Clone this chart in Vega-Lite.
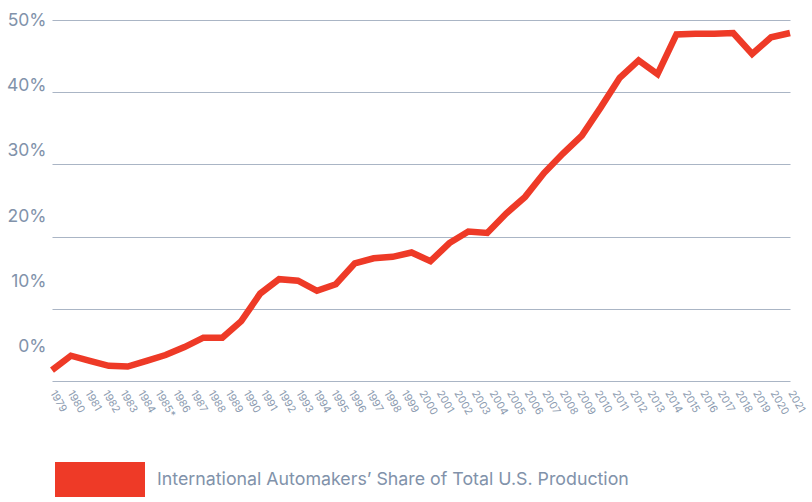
{
  "$schema": "https://vega.github.io/schema/vega-lite/v6.json",
  "width": 738,
  "height": 361,
  "autosize": {"type": "none"},
  "padding": {"left": 52, "top": 20, "right": 22, "bottom": 121},
  "background": "white",
  "config": {"view": {"stroke": null}, "font": "Inter"},
  "layer": [
    {
      "data": {"values": [
        {"year": "1979"}, {"year": "1980"}, {"year": "1981"}, {"year": "1982"}, {"year": "1983"},
        {"year": "1984"}, {"year": "1985*"}, {"year": "1986"}, {"year": "1987"}, {"year": "1988"},
        {"year": "1989"}, {"year": "1990"}, {"year": "1991"}, {"year": "1992"}, {"year": "1993"},
        {"year": "1994"}, {"year": "1995"}, {"year": "1996"}, {"year": "1997"}, {"year": "1998"},
        {"year": "1999"}, {"year": "2000"}, {"year": "2001"}, {"year": "2002"}, {"year": "2003"},
        {"year": "2004"}, {"year": "2005"}, {"year": "2006"}, {"year": "2007"}, {"year": "2008"},
        {"year": "2009"}, {"year": "2010"}, {"year": "2011"}, {"year": "2012"}, {"year": "2013"},
        {"year": "2014"}, {"year": "2015"}, {"year": "2016"}, {"year": "2017"}, {"year": "2018"},
        {"year": "2019"}, {"year": "2020"}, {"year": "2021"}
      ]},
      "mark": {"type": "point", "opacity": 0},
      "encoding": {
        "x": {
          "field": "year", "type": "nominal", "sort": null,
          "scale": {"type": "point", "padding": 0},
          "axis": {"title": null, "orient": "bottom", "labelAngle": 60, "labelAlign": "left", "labelBaseline": "middle",
                   "labelFontSize": 10.5, "labelColor": "#8c9bb0", "ticks": false, "domain": false, "grid": false,
                   "labelPadding": 10, "labelOverlap": false}
        },
        "y": {
          "datum": 0, "type": "quantitative",
          "scale": {"domain": [-5.25, 50], "nice": false, "zero": false},
          "axis": {"title": null, "orient": "left", "values": [0, 10, 20, 30, 40, 50],
                   "labelExpr": "datum.value + '%'", "labelFontSize": 17.5, "labelColor": "#8192aa",
                   "ticks": false, "domain": false, "grid": false, "labelPadding": 6}
        }
      }
    },
    {
      "data": {"values": [
        {"point": 1, "share": 1.5}, {"point": 2, "share": 3.5}, {"point": 3, "share": 2.8}, {"point": 4, "share": 2.1},
        {"point": 5, "share": 2.0}, {"point": 6, "share": 2.8}, {"point": 7, "share": 3.6}, {"point": 8, "share": 4.7},
        {"point": 9, "share": 6.0}, {"point": 10, "share": 6.0}, {"point": 11, "share": 8.3}, {"point": 12, "share": 12.1},
        {"point": 13, "share": 14.1}, {"point": 14, "share": 13.9}, {"point": 15, "share": 12.5}, {"point": 16, "share": 13.4},
        {"point": 17, "share": 16.3}, {"point": 18, "share": 17.0}, {"point": 19, "share": 17.2}, {"point": 20, "share": 17.8},
        {"point": 21, "share": 16.6}, {"point": 22, "share": 19.1}, {"point": 23, "share": 20.7}, {"point": 24, "share": 20.5},
        {"point": 25, "share": 23.2}, {"point": 26, "share": 25.5}, {"point": 27, "share": 28.8}, {"point": 28, "share": 31.5},
        {"point": 29, "share": 34.0}, {"point": 30, "share": 37.9}, {"point": 31, "share": 42.0}, {"point": 32, "share": 44.4},
        {"point": 33, "share": 42.5}, {"point": 34, "share": 48.0}, {"point": 35, "share": 48.1}, {"point": 36, "share": 48.1},
        {"point": 37, "share": 48.2}, {"point": 38, "share": 45.3}, {"point": 39, "share": 47.6}, {"point": 40, "share": 48.2}
      ]},
      "mark": {"type": "line", "strokeWidth": 6.5, "strokeJoin": "miter", "strokeCap": "butt"},
      "encoding": {
        "x": {"field": "point", "type": "quantitative", "scale": {"domain": [1, 40], "nice": false, "zero": false}, "axis": null},
        "y": {
          "field": "share", "type": "quantitative",
          "scale": {"domain": [0, 50], "nice": false},
          "axis": {"orient": "right", "title": null, "values": [0, 10, 20, 30, 40, 50], "labels": false,
                   "ticks": false, "domain": false, "grid": true, "gridColor": "#aab5c5", "gridWidth": 1.2, "gridOpacity": 1}
        },
        "color": {
          "datum": "International Automakers’ Share of Total U.S. Production", "type": "nominal",
          "scale": {"range": ["#ee3a27"]},
          "legend": {
            "title": null, "orient": "none", "legendX": 3, "legendY": 414.5,
            "symbolType": "M-1,-0.39H1V0.39H-1Z", "symbolSize": 8100,
            "symbolFillColor": "#ee3a27", "symbolStrokeWidth": 0,
            "labelFontSize": 17.8, "labelColor": "#8192aa", "labelOffset": 12, "labelLimit": 0,
            "padding": 0, "rowPadding": 0,
            "encode": {"symbols": {"update": {
              "fill": {"value": "#ee3a27"}, "stroke": {"value": "#ee3a27"}, "strokeWidth": {"value": 0},
              "shape": {"value": "M-1,-0.39H1V0.39H-1Z"}, "size": {"value": 8100}, "opacity": {"value": 1}
            }}}
          }
        }
      }
    }
  ],
  "resolve": {"scale": {"x": "independent", "y": "independent"}}
}
